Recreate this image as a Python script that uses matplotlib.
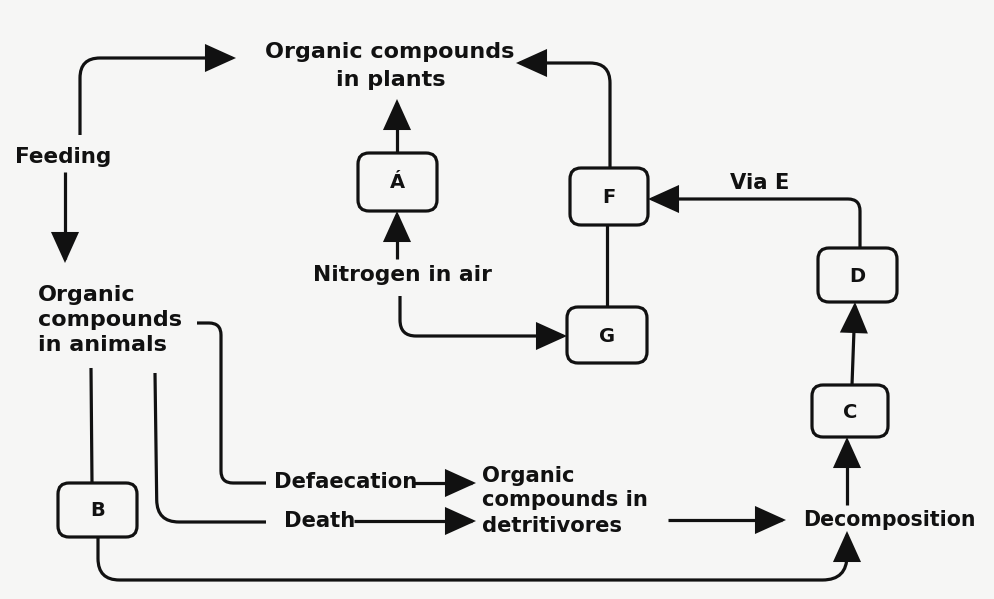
import matplotlib
matplotlib.use("Agg")
import matplotlib.pyplot as plt
from matplotlib.path import Path
from matplotlib.patches import FancyArrowPatch, FancyBboxPatch, PathPatch

# ---- content ----
box_labels = ["Á", "F", "G", "D", "C", "B"]
plants_label = ["Organic compounds", "in plants"]
animals_label = ["Organic", "compounds", "in animals"]
detritivore_label = ["Organic", "compounds in", "detritivores"]
process_labels = ["Feeding", "Nitrogen in air", "Via E", "Defaecation", "Death", "Decomposition"]

# ---- layout (pixel coordinates, y downward) ----
boxes = {
    "Á": (358, 153, 79, 58),
    "F": (570, 168, 78, 57),
    "G": (567, 307, 80, 56),
    "D": (818, 248, 79, 54),
    "C": (812, 385, 76, 52),
    "B": (58, 483, 79, 54),
}

INK = "#111111"
LW = 2.3

fig = plt.figure(figsize=(9.95, 5.99), dpi=100)
fig.patch.set_facecolor("#f6f6f5")
ax = fig.add_axes([0, 0, 1, 1])
ax.set_xlim(0, 995)
ax.set_ylim(599, 0)
ax.axis("off")
ax.set_facecolor("#f6f6f5")


def rounded_path(pts, r=15):
    verts = [pts[0]]
    codes = [Path.MOVETO]
    for i in range(1, len(pts) - 1):
        p0, p1, p2 = pts[i - 1], pts[i], pts[i + 1]
        d1 = ((p1[0] - p0[0]), (p1[1] - p0[1]))
        d2 = ((p2[0] - p1[0]), (p2[1] - p1[1]))
        l1 = (d1[0] ** 2 + d1[1] ** 2) ** 0.5
        l2 = (d2[0] ** 2 + d2[1] ** 2) ** 0.5
        rr = min(r, l1 / 2, l2 / 2)
        a = (p1[0] - d1[0] / l1 * rr, p1[1] - d1[1] / l1 * rr)
        b = (p1[0] + d2[0] / l2 * rr, p1[1] + d2[1] / l2 * rr)
        verts += [a, p1, b]
        codes += [Path.LINETO, Path.CURVE3, Path.CURVE3]
    verts.append(pts[-1])
    codes.append(Path.LINETO)
    return Path(verts, codes)


def connector(pts, r=15, arrow=True):
    path = rounded_path(pts, r)
    if arrow:
        p = FancyArrowPatch(path=path, arrowstyle="-|>,head_length=1.15,head_width=0.52",
                            mutation_scale=16, lw=LW, color=INK, joinstyle="miter",
                            capstyle="butt")
    else:
        p = PathPatch(path, fill=False, lw=LW, edgecolor=INK, capstyle="butt")
    ax.add_patch(p)


# boxes
for lab in box_labels:
    x, y, w, h = boxes[lab]
    ax.add_patch(FancyBboxPatch((x, y), w, h, boxstyle="round,pad=0,rounding_size=11",
                                fc="none", ec=INK, lw=LW))
    ax.text(x + w / 2, y + h / 2 + 1, lab, ha="center", va="center",
            fontsize=14, fontweight="bold", color=INK, family="DejaVu Sans")

TXT = dict(fontweight="bold", color=INK, family="DejaVu Sans", va="center")
BIG = 16
SMALL = 15.2

# texts
ax.text(390, 52, plants_label[0], ha="center", fontsize=BIG, **TXT)
ax.text(391, 80, plants_label[1], ha="center", fontsize=BIG, **TXT)
for s, yy in zip(animals_label, [295, 320, 345]):
    ax.text(38, yy, s, ha="left", fontsize=BIG, **TXT)
for s, yy in zip(detritivore_label, [476, 500, 526]):
    ax.text(482, yy, s, ha="left", fontsize=SMALL, **TXT)
ax.text(15, 157, process_labels[0], ha="left", fontsize=BIG - 0.5, **TXT)
ax.text(402, 275, process_labels[1], ha="center", fontsize=BIG - 0.3, **TXT)
ax.text(760, 183, process_labels[2], ha="center", fontsize=SMALL, **TXT)
ax.text(274, 482, process_labels[3], ha="left", fontsize=SMALL, **TXT)
ax.text(284, 521, process_labels[4], ha="left", fontsize=SMALL, **TXT)
ax.text(803, 520, process_labels[5], ha="left", fontsize=SMALL - 0.4, **TXT)

# connectors
connector([(80, 135), (80, 58), (236, 58)], r=20)                 # feeding -> plants
connector([(65, 172), (65, 263)], arrow=True)                     # feeding -> animals
connector([(197, 323), (221, 323), (221, 483), (266, 483)], r=12, arrow=False)
connector([(414, 483), (476, 483)])                                # defaecation
connector([(155, 373), (157, 522), (266, 522)], r=22, arrow=False)
connector([(354, 521), (476, 521)])                                # death
connector([(91, 368), (92, 483)], arrow=False)                     # animals -> B
connector([(98, 537), (98, 580), (847, 580), (847, 531)], r=28)   # B -> decomposition
connector([(668, 520), (786, 520)])                                # detritivores -> decomposition
connector([(847, 505), (847, 437)])                                # decomposition -> C
connector([(852, 385), (855, 302)])                                # C -> D
connector([(860, 248), (860, 199), (648, 199)], r=12)              # D -> F (via E)
connector([(610, 168), (610, 63), (516, 63)], r=20)                # F -> plants
connector([(607, 225), (607, 307)], arrow=False)                   # F - G
connector([(397, 259), (397, 211)])                                # N -> A
connector([(397, 153), (397, 99)])                                 # A -> plants
connector([(400, 296), (400, 336), (567, 336)], r=16)              # N -> G

fig.savefig("out.png", dpi=100, facecolor=fig.get_facecolor())
